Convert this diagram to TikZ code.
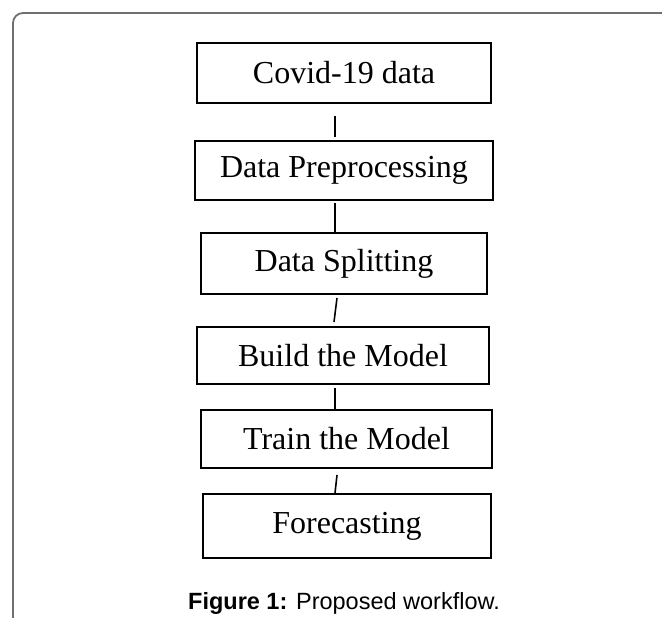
\documentclass[tikz,border=0pt]{standalone}
\usepackage{fontspec}
\setmainfont{Liberation Serif}
\newfontfamily\capfont{Liberation Sans}
\usepackage{tikz}
\usetikzlibrary{positioning}
\usepackage{xcolor}
\definecolor{framegray}{RGB}{112, 112, 112}

\begin{document}
\begin{tikzpicture}[
  x=1pt, y=1pt,
  flowbox/.style={rectangle, draw=black, line width=1.6pt, outer sep=0pt,
               inner sep=0pt, font=\fontsize{32}{38}\selectfont},
  link/.style={line width=1.6pt, color=black}
]
  \useasboundingbox (0,0) rectangle (662,-618);
  \draw[framegray, line width=1.8pt, rounded corners=10pt] (13,-618) -- (13,-13) -- (662,-13);

  \node[flowbox, minimum width=294pt, minimum height=60pt] (covid) at (344,-73) {Covid-19 data};
  \node[flowbox, minimum width=298pt, minimum height=59pt, below=38pt of covid] (prep) {Data Preprocessing};
  \node[flowbox, minimum width=286pt, minimum height=61pt, below=33pt of prep] (split) {Data Splitting};
  \node[flowbox, minimum width=292pt, minimum height=57pt, below=33pt of split, xshift=-1pt] (build) {Build the Model};
  \node[flowbox, minimum width=291pt, minimum height=58pt, below=26pt of build, xshift=3.5pt] (train) {Train the Model};
  \node[flowbox, minimum width=288pt, minimum height=64pt, below=26pt of train, xshift=0.5pt] (fore) {Forecasting};

  \draw[link] ([xshift=-9pt, yshift=-13pt]covid.south) -- ([xshift=-9pt, yshift=4pt]prep.north);
  \draw[link] ([xshift=-9pt, yshift=-3pt]prep.south) -- ([xshift=-9pt]split.north);
  \draw[link] ([xshift=-7pt, yshift=-4pt]split.south) -- ([xshift=-9pt, yshift=5pt]build.north);
  \draw[link] ([xshift=-8pt, yshift=-4pt]build.south) -- ([xshift=-11.5pt]train.north);
  \draw[link] ([xshift=-9.5pt, yshift=-7pt]train.south) -- ([xshift=-12pt, yshift=1pt]fore.north);

  \node[anchor=base, font=\capfont\fontsize{23.5}{28}\selectfont] (caption) at (344,-609)
    {\textbf{Figure 1:} Proposed workflow.};
\end{tikzpicture}
\end{document}
